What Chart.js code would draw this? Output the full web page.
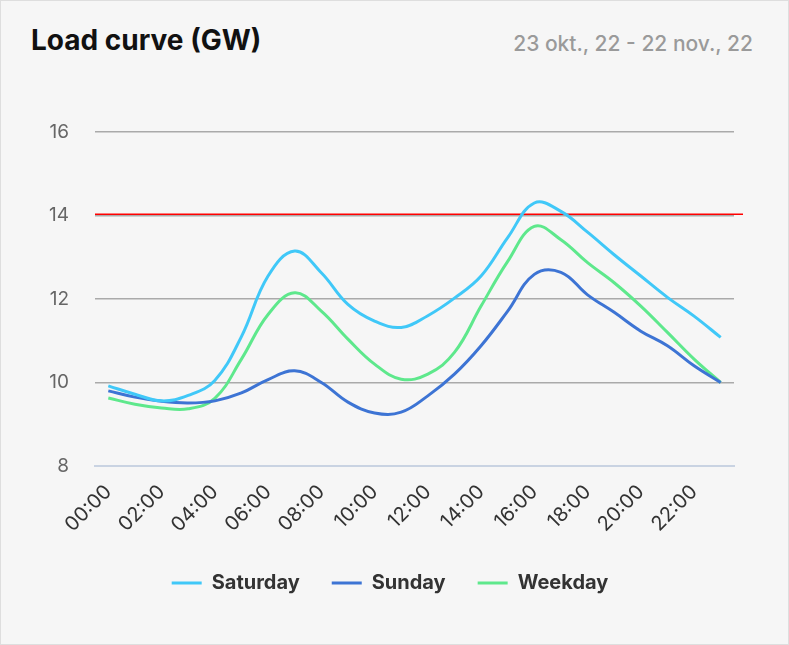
<!DOCTYPE html>
<html>
<head>
<meta charset="utf-8">
<script src="https://cdn.jsdelivr.net/npm/chart.js@4.4.1/dist/chart.umd.min.js"></script>
<style>
    html, body { margin: 0; padding: 0; background: #fff; }
    .card {
        position: relative;
        width: 787px;
        height: 643px;
        border: 1px solid #dedede;
        background: #f6f6f6;
        overflow: hidden;
    }
    .title {
        position: absolute;
        left: 30px;
        top: 22px;
        font: 700 28px Inter, sans-serif;
        color: #111;
    }
    .range {
        position: absolute;
        right: 35px;
        top: 30px;
        font: 500 21px Inter, sans-serif;
        color: #9a9a9a;
    }
    canvas { position: absolute; left: -1px; top: -1px; }
</style>
</head>
<body>
<div class="card">
    <div class="title">Load curve (GW)</div>
    <div class="range">23 okt., 22 - 22 nov., 22</div>
    <canvas id="loadChart" width="789" height="645"></canvas>
</div>
<script>
const hours = ["00:00", "01:00", "02:00", "03:00", "04:00", "05:00", "06:00", "07:00",
    "08:00", "09:00", "10:00", "11:00", "12:00", "13:00", "14:00", "15:00",
    "16:00", "17:00", "18:00", "19:00", "20:00", "21:00", "22:00", "23:00"];

const saturday = [9.92, 9.72, 9.56, 9.69, 10.05, 11.1, 12.55, 13.15, 12.63, 11.87, 11.47, 11.32,
    11.6, 12.02, 12.55, 13.47, 14.3, 14.1, 13.6, 13.06, 12.55, 12.04, 11.59, 11.08];
const sunday = [9.8, 9.65, 9.55, 9.51, 9.56, 9.75, 10.07, 10.28, 10.0, 9.53, 9.27, 9.29,
    9.68, 10.2, 10.88, 11.71, 12.59, 12.64, 12.1, 11.68, 11.23, 10.88, 10.4, 10.0];
const weekday = [9.63, 9.48, 9.39, 9.37, 9.62, 10.56, 11.63, 12.15, 11.71, 11.04, 10.44, 10.08,
    10.2, 10.72, 11.83, 12.9, 13.74, 13.42, 12.87, 12.39, 11.83, 11.2, 10.56, 10.0];

const yMin = 8;
const yMax = 16;
const yStep = 2;
const limitValue = 14.03;

// red limit line, runs a bit past the plot on the right
const limitLine = {
    id: "limitLine",
    beforeDatasetsDraw(chart) {
        const { ctx, chartArea, scales } = chart;
        const py = scales.y.getPixelForValue(limitValue);
        ctx.save();
        ctx.strokeStyle = "#ff0000";
        ctx.lineWidth = 1.5;
        ctx.beginPath();
        ctx.moveTo(chartArea.left, py);
        ctx.lineTo(chartArea.right + 9, py);
        ctx.stroke();
        ctx.restore();
    }
};

// legend sits a little right of the plot centre in the original
const legendNudge = {
    id: "legendNudge",
    afterLayout(chart) {
        chart.legend.left += 8;
        chart.legend.right += 8;
    }
};

function series(label, data, color) {
    return {
        label: label,
        data: data,
        borderColor: color,
        backgroundColor: color,
        borderWidth: 3,
        pointRadius: 0,
        pointHoverRadius: 0,
        tension: 0.4,
        fill: false
    };
}

const ctx = document.getElementById("loadChart").getContext("2d");
new Chart(ctx, {
    type: "line",
    data: {
        labels: hours,
        datasets: [
            series("Saturday", saturday, "#40c8f8"),
            series("Sunday", sunday, "#3d74d4"),
            series("Weekday", weekday, "#5ee88c")
        ]
    },
    options: {
        responsive: false,
        animation: false,
        layout: {
            padding: { top: 132, left: 30, right: 55, bottom: 42 }
        },
        plugins: {
            legend: {
                position: "bottom",
                labels: {
                    usePointStyle: true,
                    pointStyle: "line",
                    pointStyleWidth: 30,
                    padding: 32,
                    color: "#333",
                    font: { family: "Inter", size: 20, weight: 700 }
                }
            },
            tooltip: { enabled: false }
        },
        scales: {
            x: {
                offset: true,
                grid: { display: false },
                border: { color: "#c9d3e2", width: 2 },
                ticks: {
                    autoSkip: false,
                    minRotation: 45,
                    maxRotation: 45,
                    padding: 6,
                    color: "#333",
                    font: { family: "Inter", size: 20 },
                    callback: function (value, index) {
                        return index % 2 === 0 ? hours[index] : "";
                    }
                },
                afterFit: function (scale) { scale.height = 75; }
            },
            y: {
                min: yMin,
                max: yMax,
                border: { display: false },
                grid: { color: "#aaaaaa", lineWidth: 1.5, drawTicks: false },
                ticks: {
                    stepSize: yStep,
                    padding: 26,
                    color: "#666",
                    font: { family: "Inter", size: 19 }
                },
                afterFit: function (scale) { scale.width = 65; }
            }
        }
    },
    plugins: [limitLine, legendNudge]
});
</script>
</body>
</html>
